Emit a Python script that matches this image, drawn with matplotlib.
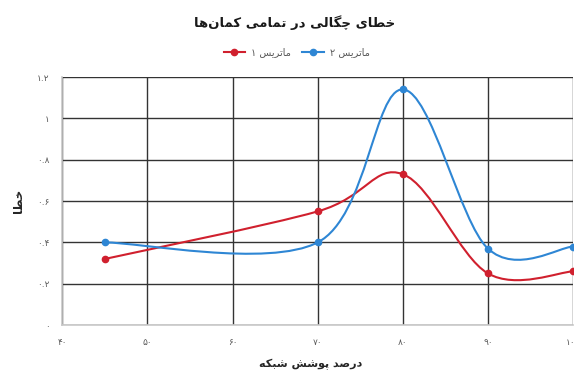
import numpy as np
import matplotlib.pyplot as plt
from matplotlib.path import Path
from matplotlib.patches import PathPatch

''' Data '''
coverage = [45, 70, 80, 90, 100]
matrix1 = [0.32, 0.55, 0.73, 0.25, 0.26]
matrix2 = [0.40, 0.40, 1.14, 0.37, 0.38]
xticks = [40, 50, 60, 70, 80, 90, 100]
yticks = [0, 0.2, 0.4, 0.6, 0.8, 1.0, 1.2]

title = 'خطای چگالی در تمامی کمان\u200cها'
label1 = 'ماتریس ۱'
label2 = 'ماتریس ۲'
xlabel = 'درصد پوشش شبکه'
ylabel = 'خطا'

red = '#d0202e'
blue = '#2e86d4'

# presentation forms: isolated, final, initial, medial
FORMS = {
    'ا': ('\ufe8d', '\ufe8e', None, None),
    'د': ('\ufea9', '\ufeaa', None, None),
    'ر': ('\ufead', '\ufeae', None, None),
    'و': ('\ufeed', '\ufeee', None, None),
    'ب': ('\ufe8f', '\ufe90', '\ufe91', '\ufe92'),
    'پ': ('\ufb56', '\ufb57', '\ufb58', '\ufb59'),
    'ت': ('\ufe95', '\ufe96', '\ufe97', '\ufe98'),
    'چ': ('\ufb7a', '\ufb7b', '\ufb7c', '\ufb7d'),
    'خ': ('\ufea5', '\ufea6', '\ufea7', '\ufea8'),
    'س': ('\ufeb1', '\ufeb2', '\ufeb3', '\ufeb4'),
    'ش': ('\ufeb5', '\ufeb6', '\ufeb7', '\ufeb8'),
    'ص': ('\ufeb9', '\ufeba', '\ufebb', '\ufebc'),
    'ط': ('\ufec1', '\ufec2', '\ufec3', '\ufec4'),
    'ک': ('\ufb8e', '\ufb8f', '\ufb90', '\ufb91'),
    'گ': ('\ufb92', '\ufb93', '\ufb94', '\ufb95'),
    'ل': ('\ufedd', '\ufede', '\ufedf', '\ufee0'),
    'م': ('\ufee1', '\ufee2', '\ufee3', '\ufee4'),
    'ن': ('\ufee5', '\ufee6', '\ufee7', '\ufee8'),
    'ه': ('\ufee9', '\ufeea', '\ufeeb', '\ufeec'),
    'ی': ('\ufbfc', '\ufbfd', '\ufbfe', '\ufbff'),
}


def shape(text):
    '''Join Persian letters and put them in visual order.'''
    out = []
    n = len(text)
    for i, ch in enumerate(text):
        if ch not in FORMS:
            if ch != '\u200c':
                out.append(ch)
            continue
        prev = text[i - 1] if i > 0 else ''
        nxt = text[i + 1] if i < n - 1 else ''
        join_prev = prev in FORMS and FORMS[prev][2] is not None
        join_next = nxt in FORMS and FORMS[ch][2] is not None
        iso, fin, ini, med = FORMS[ch]
        if join_prev and join_next:
            out.append(med)
        elif join_prev:
            out.append(fin)
        elif join_next:
            out.append(ini)
        else:
            out.append(iso)
    # reverse words, keep digit runs left to right
    words = ''.join(out).split(' ')
    return ' '.join(w if w[0] in '۰۱۲۳۴۵۶۷۸۹.' else w[::-1] for w in words[::-1])


def fa_num(v):
    s = f'{v:g}'
    return s.translate(str.maketrans('0123456789', '۰۱۲۳۴۵۶۷۸۹'))


def smooth_path(x, y):
    '''Bezier path like a spreadsheet smoothed line.'''
    pts = list(zip(x, y))
    verts = [pts[0]]
    codes = [Path.MOVETO]
    for i in range(len(pts) - 1):
        p0 = pts[i - 1] if i > 0 else pts[i]
        p1 = pts[i]
        p2 = pts[i + 1]
        p3 = pts[i + 2] if i + 2 < len(pts) else pts[i + 1]
        c1 = (p1[0] + (p2[0] - p0[0]) / 6, p1[1] + (p2[1] - p0[1]) / 6)
        c2 = (p2[0] - (p3[0] - p1[0]) / 6, p2[1] - (p3[1] - p1[1]) / 6)
        verts += [c1, c2, p2]
        codes += [Path.CURVE4] * 3
    return Path(verts, codes)


plt.rcParams['font.family'] = ['DejaVu Sans']

fig = plt.figure(figsize=(5.76, 3.72), dpi=100)
ax = fig.add_axes([0.108, 0.126, 0.887, 0.667])

for ys, color, lab in [(matrix1, red, label1), (matrix2, blue, label2)]:
    ax.add_patch(PathPatch(smooth_path(coverage, ys), facecolor='none',
                           edgecolor=color, lw=1.5, zorder=3))
    ax.plot(coverage, ys, 'o', color=color, markersize=4.5, zorder=4)
    ax.plot([], [], '-o', color=color, lw=1.5, markersize=4.5, label=shape(lab))

ax.set_xlim(40, 100)
ax.set_ylim(0, 1.2)
ax.set_xticks(xticks)
ax.set_xticklabels([fa_num(v) for v in xticks])
ax.set_yticks(yticks)
ax.set_yticklabels([fa_num(v) for v in yticks])
ax.grid(True, color='#333333', lw=1.0)
ax.set_axisbelow(True)
for side in ['top', 'right']:
    ax.spines[side].set_visible(False)
for side in ['left', 'bottom']:
    ax.spines[side].set_color('#c8c8c8')
    ax.spines[side].set_linewidth(1.2)
ax.tick_params(length=0, labelsize=6.5, colors='#595959', pad=9)

fig.text(0.512, 0.94, shape(title), ha='center', va='center',
         fontsize=9.5, fontweight='bold', color='#1a1a1a')
fig.legend(loc='center', bbox_to_anchor=(0.515, 0.86), ncol=2, frameon=False,
           fontsize=7, handlelength=2.2, handletextpad=0.6, columnspacing=1.2,
           labelcolor='#595959')
fig.text(0.54, 0.02, shape(xlabel), ha='center', va='center',
         fontsize=8, fontweight='bold', color='#262626')
fig.text(0.032, 0.46, shape(ylabel), ha='center', va='center', rotation=90,
         fontsize=8.5, fontweight='bold', color='#262626')

plt.savefig('out.png')
